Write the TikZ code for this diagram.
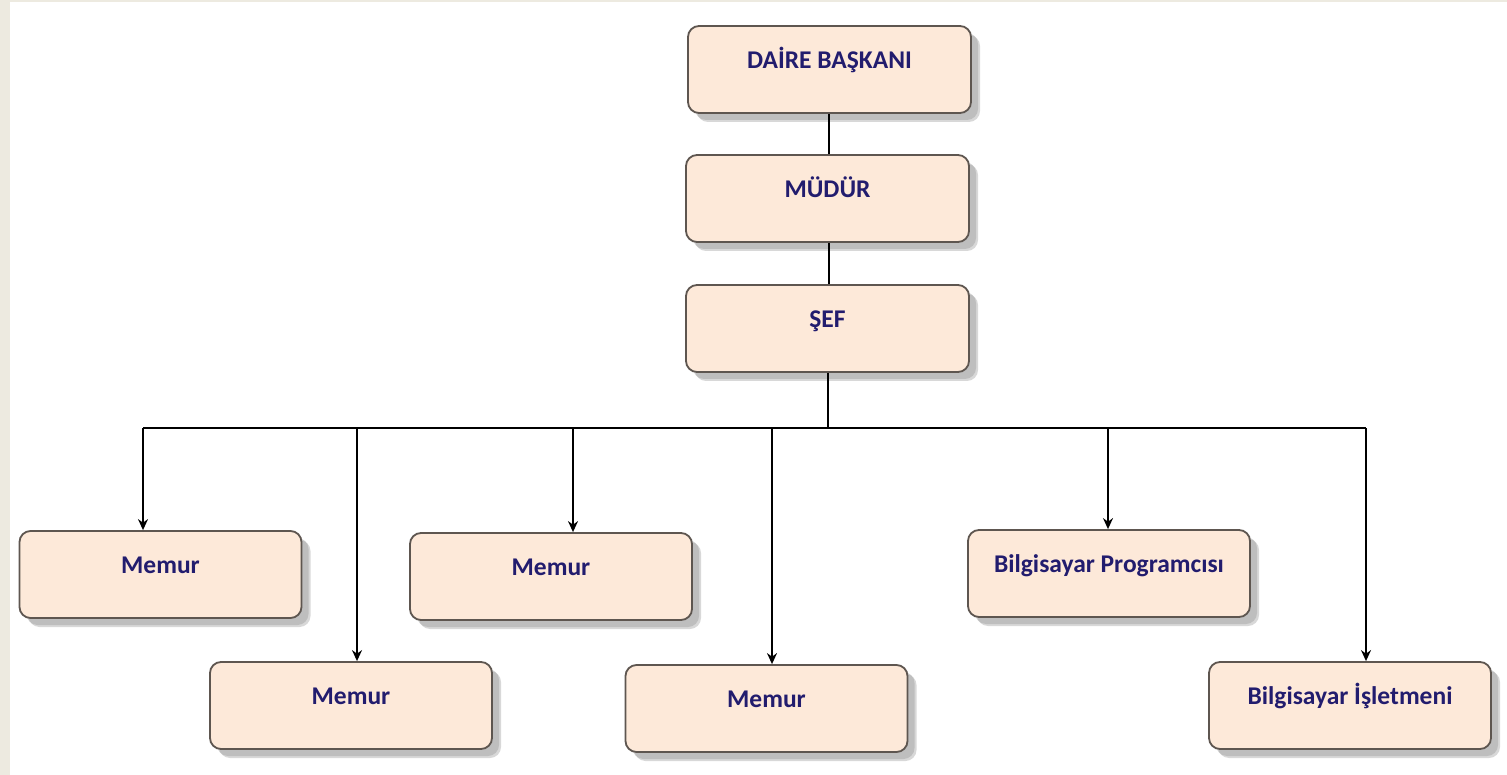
\documentclass[tikz,border=0pt]{standalone}
\usepackage{fontspec}
\setmainfont{Carlito}
\usetikzlibrary{shadows,arrows.meta}
\definecolor{boxfill}{HTML}{FDE9D9}
\definecolor{boxline}{HTML}{5E5650}
\definecolor{txt}{HTML}{221C6E}
\definecolor{strip}{HTML}{EDEAE0}
\tikzset{
  orgbox/.style={draw=boxline, line width=1.8pt, fill=boxfill, rounded corners=11pt,
    minimum width=282pt, minimum height=87pt, inner sep=0pt,
    text height=18pt, text depth=20pt, text=txt,
    font=\fontsize{25.5}{30}\selectfont\bfseries,
    general shadow={shadow xshift=9pt, shadow yshift=-9pt, fill=gray!55, opacity=.55},
    general shadow={shadow xshift=7pt, shadow yshift=-7pt, fill=gray!70, opacity=.5}},
  conn/.style={line width=1.5pt, black},
  arr/.style={conn, -{Stealth[length=11pt,width=10pt]}}
}
\begin{document}
\begin{tikzpicture}[x=1pt,y=-1pt]
\useasboundingbox (0,0) rectangle (1507,775);
\fill[white] (0,0) rectangle (1507,775);
\fill[strip] (0,0) rectangle (10,775);
\fill[strip] (0,0) rectangle (1507,2);
\node[orgbox, minimum width=283pt] (db) at (829.5,69.5) {DAİRE BAŞKANI};
\node[orgbox, minimum width=283pt] (mu) at (827.5,198.5) {MÜDÜR};
\node[orgbox, minimum width=283pt] (sef) at (827.5,328.5) {ŞEF};
\node[orgbox] (m1) at (160.5,574.5) {Memur};
\node[orgbox] (m2) at (351,705.5) {Memur};
\node[orgbox] (m3) at (551,576.5) {Memur};
\node[orgbox] (m4) at (766.5,708.5) {Memur};
\node[orgbox] (bp) at (1109,573.5) {Bilgisayar Programcısı};
\node[orgbox] (bi) at (1350,705.5) {Bilgisayar İşletmeni};
\coordinate (bs) at (828,428);
\coordinate (b1) at (143,428);
\coordinate (b2) at (357,428);
\coordinate (b3) at (573,428);
\coordinate (b4) at (772,428);
\coordinate (b5) at (1108,428);
\coordinate (b6) at (1366,428);
\draw[conn] (db.south -| 829,0) -- (mu.north -| 829,0);
\draw[conn] (mu.south -| 829,0) -- (sef.north -| 829,0);
\draw[conn] (sef.south -| bs) -- (bs);
\draw[conn] (b1) -- (b6);
\draw[arr] (b1) -- (b1 |- m1.north);
\draw[arr] (b2) -- (b2 |- m2.north);
\draw[arr] (b3) -- (b3 |- m3.north);
\draw[arr] (b4) -- (b4 |- m4.north);
\draw[arr] (b5) -- (b5 |- bp.north);
\draw[arr] (b6) -- (b6 |- bi.north);
\end{tikzpicture}
\end{document}
